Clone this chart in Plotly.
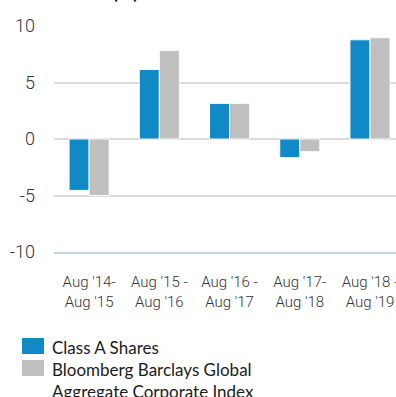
import plotly.graph_objects as go

# Annual returns by period (%)
periods = ["Aug '14-<br>Aug '15", "Aug '15 -<br>Aug '16", "Aug '16 -<br>Aug '17",
           "Aug '17-<br>Aug '18", "Aug '18 -<br>Aug '19"]
class_a = [-4.55, 6.15, 3.15, -1.65, 8.78]
index_ret = [-5.0, 7.84, 3.15, -1.12, 8.96]
series_names = ["Class A Shares", "Bloomberg Barclays Global<br>Aggregate Corporate Index"]
y_ticks = [-10, -5, 0, 5, 10]
y_tick_text = ["-10", "-5", "0", "5", "10"]

BLUE = "#1189c7"
GREY = "#bfbfbf"
COND = "Roboto, sans-serif"
BODY = "Lato, Noto Sans, sans-serif"

W, H = 396, 397
ML, MR, MT, MB = 54, 0, 26, 145

fig = go.Figure()
for name, vals, col in [(series_names[0], class_a, BLUE), (series_names[1], index_ret, GREY)]:
    fig.add_trace(go.Bar(
        x=list(range(len(periods))), y=vals, name=name,
        marker=dict(color=col, line=dict(color="rgba(255,255,255,0.9)", width=1)),
        showlegend=False, hoverinfo="skip",
    ))

plot_h = H - MT - MB


def py(px):
    """Convert a pixel row (from top) to paper y."""
    return (H - MB - px) / plot_h


def pxx(px):
    return (px - ML) / (W - ML - MR)


shapes = []
annotations = []
# Custom legend
legend_rows = [(BLUE, series_names[0], 338), (GREY, series_names[1], 360)]
for col, label, top in legend_rows:
    shapes.append(dict(type="rect", xref="paper", yref="paper",
                       x0=pxx(22), x1=pxx(44), y0=py(top + 16), y1=py(top),
                       fillcolor=col, line=dict(width=0)))
    annotations.append(dict(xref="paper", yref="paper", x=pxx(50), y=py(top - 3),
                            xanchor="left", yanchor="top", align="left",
                            text=label, showarrow=False,
                            font=dict(family=BODY, size=17, color="#1a1a1a")))

# Heading (top partly outside the page)
annotations.append(dict(xref="paper", yref="paper", x=pxx(12), y=py(5),
                        xanchor="left", yanchor="bottom", text="<b>Month End (%)</b>",
                        showarrow=False, font=dict(family=BODY, size=19, color="#111111")))

fig.update_layout(
    width=W, height=H,
    margin=dict(l=ML, r=MR, t=MT, b=MB, pad=0),
    paper_bgcolor="white", plot_bgcolor="white",
    barmode="group", bargap=0.43, bargroupgap=0.0,
    shapes=shapes, annotations=annotations,
    xaxis=dict(
        tickmode="array", tickvals=list(range(len(periods))), ticktext=periods,
        range=[-0.5, 4.37], showgrid=False, zeroline=False,
        showline=True, linecolor="#c5d4e4", linewidth=2,
        ticks="", ticklabelstandoff=15, tickangle=0, ticklabeloverflow="allow",
        tickfont=dict(family=COND, size=15, color="#333333", weight=300),
        automargin=False, fixedrange=True,
    ),
    yaxis=dict(
        tickmode="array", tickvals=y_ticks, ticktext=y_tick_text,
        range=[-10, 10], showgrid=True, gridcolor="#dadada", gridwidth=1.5,
        zeroline=True, zerolinecolor="#dadada", zerolinewidth=1.5,
        showline=False, ticks="", ticklabelstandoff=18,
        tickfont=dict(family=COND, size=18, color="#333333", weight=300),
        automargin=False, fixedrange=True,
    ),
)

fig.write_html("out.html")
